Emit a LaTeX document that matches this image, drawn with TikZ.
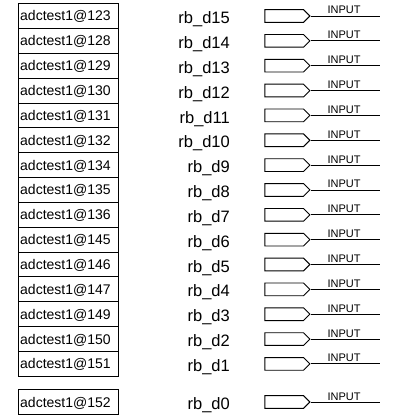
\documentclass[tikz,border=0pt]{standalone}
\usepackage{fontspec}
\setmainfont{Liberation Sans}
\usetikzlibrary{shapes.symbols}
\begin{document}
\begin{tikzpicture}[x=1pt,y=-1pt,
  pinbox/.style={draw,line width=0.9pt,minimum height=24.85pt,text width=96.6pt,
    inner xsep=1.6pt,inner ysep=0pt,align=left,text height=11pt,text depth=1pt,
    font=\fontsize{14}{14}\selectfont},
  siglabel/.style={anchor=base east,inner sep=0pt,font=\fontsize{16.5}{16.5}\selectfont},
  inpin/.style={draw,line width=0.9pt,shape=signal,signal to=east,signal pointer angle=90,
    minimum width=45pt,minimum height=12.7pt,inner sep=0pt},
  pinwire/.style={line width=0.9pt},
  pintext/.style={anchor=base west,inner sep=0pt,font=\fontsize{11}{11}\selectfont}]
\useasboundingbox (0,0) rectangle (392,417);
\foreach \n [count=\i from 0] in {123,128,129,130,131,132,134,135,136,145,146,147,149,150,151,152}{
  \pgfmathsetmacro\yc{\i<15 ? 16.0+24.85*\i : 402}
  \pgfmathtruncatemacro\d{15-\i}
  \node[pinbox] (b\i) at (68.5,\yc) {adctest1@\n};
  \node[siglabel] (l\i) at (230,\yc+7.6) {rb\_d\d};
  \node[inpin] (s\i) at (284.2,\yc) {};
  \coordinate (e\i) at (380,\yc);
  \draw[pinwire] (s\i.east) -- (e\i);
  \node[pintext] (t\i) at (327.3,\yc-2) {INPUT};
}
\end{tikzpicture}
\end{document}
